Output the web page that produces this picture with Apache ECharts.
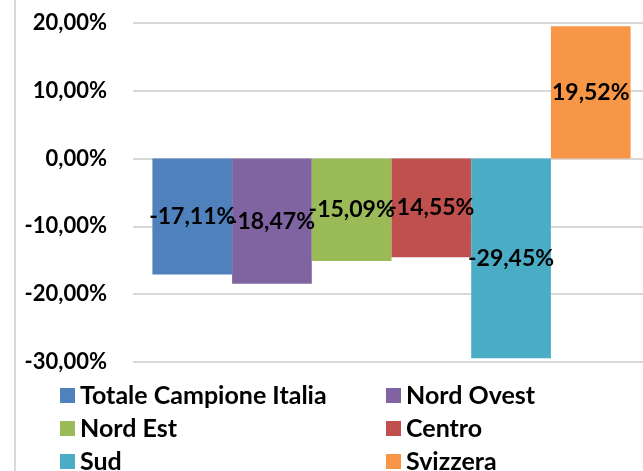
<!DOCTYPE html>
<html>
<head>
<meta charset="utf-8">
<script src="https://cdn.jsdelivr.net/npm/echarts@6/dist/echarts.min.js"></script>
<style>
  html, body { margin: 0; padding: 0; background: #fff; overflow: hidden; }
  /* l'area del grafico originale prosegue oltre il bordo destro */
  #chart { width: 650px; height: 471px; position: relative; }
  .frame-line { position: absolute; left: 14px; top: 0; width: 2px; height: 471px; background: #d9d9d9; }
</style>
</head>
<body>
<div class="frame-line"></div>
<div id="chart"></div>
<script>
// serie e valori (variazione percentuale)
const seriesNames = ['Totale Campione Italia', 'Nord Ovest', 'Nord Est', 'Centro', 'Sud', 'Svizzera']
const seriesValues = [-17.11, -18.47, -15.09, -14.55, -29.45, 19.52]
const seriesColors = ['#4f81bd', '#8064a2', '#9bbb59', '#c0504d', '#4bacc6', '#f79646']
const categories = ['']
const axisMin = -30
const axisMax = 20
const axisStep = 10

const legendLeft = ['Totale Campione Italia', 'Nord Est', 'Sud']
const legendRight = ['Nord Ovest', 'Centro', 'Svizzera']

function formatPercent(value) {
  return Number(value).toFixed(2).replace('.', ',') + '%'
}

const chart = echarts.init(document.getElementById('chart'))

const legendBase = {
  orient: 'vertical',
  top: 378,
  height: 120,
  itemGap: 8,
  itemWidth: 15,
  itemHeight: 15,
  icon: 'rect',
  textStyle: {
    color: '#000',
    fontFamily: 'Lato',
    fontWeight: 'bold',
    fontSize: 25
  }
}

chart.setOption({
  backgroundColor: 'transparent',
  animation: false,
  grid: {
    left: 133,
    right: 0,
    top: 23,
    bottom: 109
  },
  legend: [
    Object.assign({}, legendBase, { left: 55, data: legendLeft }),
    Object.assign({}, legendBase, { left: 381, data: legendRight })
  ],
  xAxis: {
    type: 'category',
    data: categories,
    axisLine: { show: false },
    axisTick: { show: false },
    axisLabel: { show: false }
  },
  yAxis: {
    type: 'value',
    min: axisMin,
    max: axisMax,
    interval: axisStep,
    axisLine: { show: false },
    axisTick: { show: false },
    splitLine: {
      lineStyle: { color: '#d9d9d9', width: 2 }
    },
    axisLabel: {
      margin: 26,
      color: '#000',
      fontFamily: 'Lato',
      fontWeight: 'bold',
      fontSize: 22,
      formatter: formatPercent
    }
  },
  series: seriesNames.map((name, index) => ({
    name: name,
    type: 'bar',
    barWidth: 79.7,
    barGap: '0%',
    itemStyle: { color: seriesColors[index] },
    label: {
      show: true,
      position: 'inside',
      color: '#000',
      fontFamily: 'Lato',
      fontWeight: 'bold',
      fontSize: 23,
      formatter: (params) => formatPercent(params.value)
    },
    data: [seriesValues[index]]
  }))
})
</script>
</body>
</html>
